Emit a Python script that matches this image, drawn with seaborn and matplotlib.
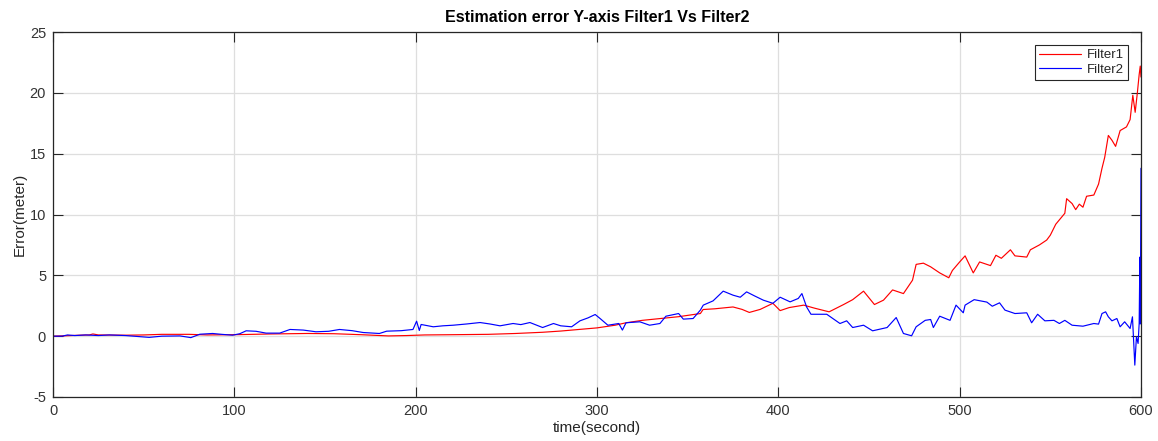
import numpy as np
import pandas as pd
import matplotlib
matplotlib.use("Agg")
import matplotlib.pyplot as plt
import seaborn as sns

# Estimation error (m) along the Y axis for the two filters
t_filter1 = [0, 5, 15, 20, 22, 25, 40, 50, 60, 75, 85, 100, 110, 120, 130, 140, 155, 170,
             185, 195, 205, 220, 240, 255, 270, 280, 290, 300, 310, 316, 325, 335, 345, 357,
             358.5, 365, 375, 380, 384, 390, 397, 401, 406, 414, 420, 428, 436, 441, 447,
             453, 458, 463, 469, 474, 476, 480, 484, 489, 494, 496, 500, 503, 507.5, 511,
             517, 520, 523, 528, 530.5, 537, 539, 544, 548, 550, 553, 558, 559, 562, 564,
             566, 568, 570, 574, 576.6, 578.5, 580, 582, 584, 586, 588.5, 592, 594, 595.5,
             596.8, 598, 599, 599.6, 600]
err_filter1 = [0.0, 0.02, 0.08, 0.1, 0.18, 0.1, 0.08, 0.1, 0.15, 0.15, 0.1, 0.12, 0.15, 0.18,
               0.2, 0.22, 0.2, 0.12, 0.02, 0.05, 0.1, 0.12, 0.15, 0.22, 0.32, 0.42, 0.55, 0.68,
               0.9, 1.1, 1.3, 1.45, 1.6, 1.86, 2.19, 2.25, 2.4, 2.2, 1.95, 2.2, 2.7, 2.1, 2.35,
               2.55, 2.3, 2.0, 2.6, 3.0, 3.7, 2.6, 2.96, 3.8, 3.5, 4.6, 5.9, 6.0, 5.7, 5.2, 4.8,
               5.4, 6.1, 6.6, 5.2, 6.1, 5.8, 6.65, 6.4, 7.1, 6.6, 6.5, 7.1, 7.5, 7.9, 8.3, 9.2,
               10.1, 11.3, 10.9, 10.4, 10.85, 10.6, 11.5, 11.6, 12.5, 13.8, 14.7, 16.5, 16.1,
               15.6, 16.9, 17.2, 17.8, 19.8, 18.4, 20.0, 21.5, 22.2, 21.3]

t_filter2 = [0, 5, 8, 12, 18, 25, 31, 40, 53, 60, 70, 76, 81, 88, 93, 99, 103, 106.5, 112,
             117.5, 125, 130.7, 138, 145, 152, 158, 165, 171, 180, 184, 192, 198.5, 200.5, 202,
             203, 209.7, 215, 220.7, 228, 235.5, 241, 246.5, 253.7, 258, 263, 270, 276, 280,
             286, 290.6, 295, 299, 301.7, 306, 312, 314, 316, 323.6, 329, 334.7, 338, 345,
             347.6, 353, 357, 358.6, 364, 369.6, 375, 379, 382.5, 387, 391.7, 397, 401, 406.5,
             411, 413, 415.6, 418, 426.7, 434, 437.7, 441, 447, 452, 460, 465, 469, 473.5, 476,
             481, 484, 485.5, 489, 494.7, 498, 502, 503, 508, 515, 518, 522, 525, 530.5, 537,
             539.7, 543, 547, 552, 555, 558, 562, 568, 574, 576.6, 578.5, 580.5, 582, 584,
             586.7, 588.5, 591, 594, 595.3, 596, 596.6, 597.5, 598.4, 599, 599.4, 599.6, 599.8,
             600]
err_filter2 = [0.0, 0.0, 0.1, 0.05, 0.1, 0.05, 0.1, 0.05, -0.1, 0.0, 0.02, -0.12, 0.16, 0.22,
               0.15, 0.08, 0.2, 0.44, 0.4, 0.25, 0.25, 0.55, 0.5, 0.36, 0.4, 0.55, 0.45, 0.3,
               0.22, 0.41, 0.45, 0.55, 1.23, 0.47, 0.96, 0.77, 0.85, 0.9, 1.0, 1.12, 1.0, 0.85,
               1.04, 0.95, 1.12, 0.71, 1.04, 0.85, 0.77, 1.26, 1.5, 1.78, 1.45, 0.9, 1.04, 0.5,
               1.1, 1.18, 0.9, 1.04, 1.64, 1.86, 1.4, 1.45, 2.14, 2.55, 2.9, 3.7, 3.37, 3.2,
               3.64, 3.3, 2.96, 2.7, 3.2, 2.82, 3.1, 3.5, 2.4, 1.8, 1.8, 1.04, 1.26, 0.71, 0.9,
               0.44, 0.71, 1.53, 0.22, 0.03, 0.77, 1.3, 1.37, 0.71, 1.64, 1.3, 2.55, 1.92, 2.55,
               3.0, 2.8, 2.46, 2.74, 2.14, 1.86, 1.92, 1.1, 1.8, 1.26, 1.3, 1.04, 1.3, 0.9, 0.82,
               1.04, 0.99, 1.86, 2.0, 1.59, 1.26, 1.45, 0.77, 1.18, 0.63, 1.59, -0.6, -2.38,
               -0.05, -0.6, 1.04, 6.5, 1.0, 6.5, 13.8]

x_ticks = [0, 100, 200, 300, 400, 500, 600]
y_ticks = [-5, 0, 5, 10, 15, 20, 25]

df = pd.concat([
    pd.DataFrame({"time": t_filter1, "error": err_filter1, "filter": "Filter1"}),
    pd.DataFrame({"time": t_filter2, "error": err_filter2, "filter": "Filter2"}),
], ignore_index=True)

sns.set_style("white")
plt.rcParams["font.family"] = ["Liberation Sans", "DejaVu Sans"]
plt.rcParams["axes.unicode_minus"] = False

fig = plt.figure(figsize=(11.58, 4.41), dpi=100)
ax = fig.add_axes([0.0458, 0.0998, 0.9395, 0.8276])

sns.lineplot(data=df, x="time", y="error", hue="filter",
             palette={"Filter1": "#ff0000", "Filter2": "#0000ff"},
             linewidth=0.85, sort=False, estimator=None, ax=ax)

ax.set_xlim(0, 600)
ax.set_ylim(-5, 25)
ax.set_xticks(x_ticks)
ax.set_yticks(y_ticks)
ax.grid(True, color="#dedede", linewidth=0.9)
ax.set_axisbelow(True)

for side in ["left", "right", "top", "bottom"]:
    ax.spines[side].set_visible(True)
    ax.spines[side].set_color("#262626")
    ax.spines[side].set_linewidth(0.9)

ax.tick_params(axis="both", which="both", direction="in", length=7, width=0.8,
               color="#262626", labelcolor="#333333", labelsize=10.5,
               top=True, right=True, bottom=True, left=True, pad=5)

ax.set_xlabel("time(second)", fontsize=11, color="#262626", labelpad=2)
ax.set_ylabel("Error(meter)", fontsize=11, color="#262626", labelpad=2)
ax.set_title("Estimation error Y-axis Filter1 Vs Filter2", fontsize=11.5,
             fontweight="bold", color="#000000", pad=7)

leg = ax.legend(loc="upper right", fontsize=9.5, frameon=True, fancybox=False,
                handlelength=3.2, borderaxespad=1.0, borderpad=0.3,
                labelspacing=0.15, handletextpad=0.4)
leg.get_frame().set_edgecolor("#262626")
leg.get_frame().set_linewidth(0.8)
leg.get_frame().set_facecolor("white")
leg.get_frame().set_alpha(1)
leg.set_title(None)

fig.savefig("out.png", dpi=100)
